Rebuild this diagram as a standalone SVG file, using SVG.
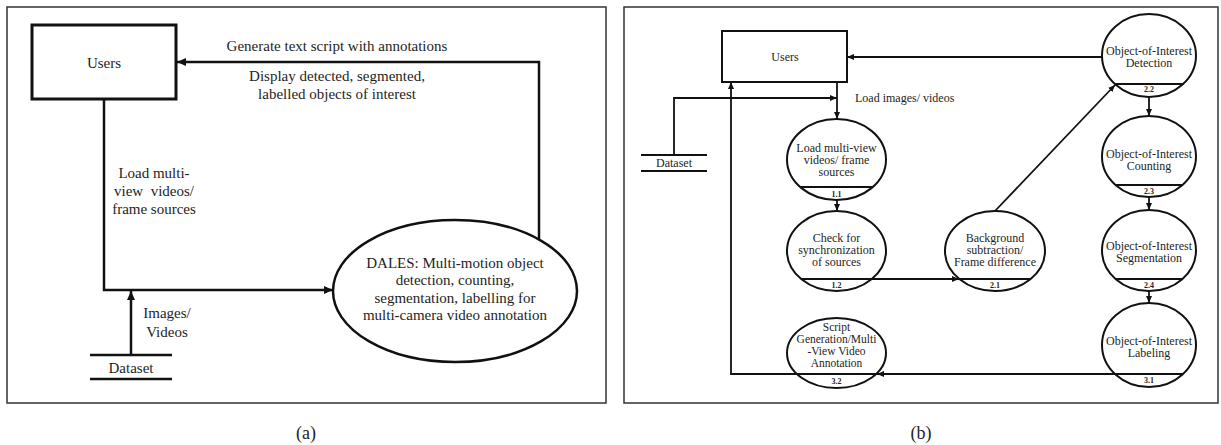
<svg xmlns="http://www.w3.org/2000/svg" width="1221" height="445" viewBox="0 0 1221 445">
<style>
text{font-family:"Liberation Serif","Times New Roman",serif;fill:#1e1e24}
.t15{font-size:15px;text-anchor:middle}
.t12{font-size:12px;text-anchor:middle}
.t11{font-size:11.5px;text-anchor:middle}
.lab{font-size:8px;font-weight:bold;text-anchor:middle}
.cap{font-size:18px;text-anchor:middle}
.frame{fill:none;stroke:#333;stroke-width:1.5}
.lbox{fill:#fff;stroke:#111;stroke-width:3}
.lnode{fill:#fff;stroke:#111;stroke-width:2.5}
.lcon{fill:none;stroke:#111;stroke-width:2.5}
.rbox{fill:#fff;stroke:#111;stroke-width:2}
.rnode{fill:#fff;stroke:#111;stroke-width:2}
.div{stroke:#111;stroke-width:1.8}
.rcon{fill:none;stroke:#111;stroke-width:1.8}
.store{stroke:#111;stroke-width:2.5}
.rstore{stroke:#111;stroke-width:2}
</style>
<defs>
<marker id="ahL" markerUnits="userSpaceOnUse" markerWidth="9" markerHeight="8" refX="9" refY="4" orient="auto"><path d="M0,0 L9,4 L0,8 z" fill="#111"/></marker>
<marker id="ahR" markerUnits="userSpaceOnUse" markerWidth="7" markerHeight="6" refX="7" refY="3" orient="auto"><path d="M0,0 L7,3 L0,6 z" fill="#111"/></marker>
</defs>
<rect width="1221" height="445" fill="#fff"/>

<!-- panel frames -->
<rect class="frame" x="7" y="7" width="599" height="396"/>
<rect class="frame" x="624" y="7" width="594" height="396"/>
<text class="cap" x="306" y="439">(a)</text>
<text class="cap" x="921" y="439">(b)</text>

<!-- ===== Left panel connectors ===== -->
<g id="connectors-a">
<polyline class="lcon" points="104,99 104,290 333,290" marker-end="url(#ahL)"/>
<polyline class="lcon" points="539,239 539,62 177,62" marker-end="url(#ahL)"/>
<line class="lcon" x1="131" y1="355" x2="131" y2="291" marker-end="url(#ahL)"/>
<text class="t15" x="337" y="51">Generate text script with annotations</text>
<text class="t15" x="337" y="81">Display detected, segmented,</text>
<text class="t15" x="337" y="99">labelled objects of interest</text>
<text class="t15" x="154" y="178">Load multi-</text>
<text class="t15" x="154" y="196" xml:space="preserve">view  videos/</text>
<text class="t15" x="154" y="214">frame sources</text>
<text class="t15" x="167" y="318">Images/</text>
<text class="t15" x="167" y="337">Videos</text>
</g>

<g id="a-users">
<rect class="lbox" x="32" y="25" width="144" height="74"/>
<text class="t15" x="104" y="68">Users</text>
</g>
<g id="a-dales">
<ellipse class="lnode" cx="455" cy="291" rx="122" ry="71"/>
<text class="t15" x="455" y="268">DALES: Multi-motion object</text>
<text class="t15" x="455" y="285">detection, counting,</text>
<text class="t15" x="455" y="303">segmentation, labelling for</text>
<text class="t15" x="455" y="320">multi-camera video annotation</text>
</g>
<g id="a-dataset">
<line class="store" x1="90" y1="355" x2="172" y2="355"/>
<line class="store" x1="90" y1="379" x2="172" y2="379"/>
<text class="t15" x="131" y="373">Dataset</text>
</g>

<!-- ===== Right panel connectors ===== -->
<g id="connectors-b">
<line class="rcon" x1="1102" y1="57" x2="847" y2="57" marker-end="url(#ahR)"/>
<line class="rcon" x1="837" y1="82" x2="837" y2="119" marker-end="url(#ahR)"/>
<polyline class="rcon" points="674,155 674,98 837,98" marker-end="url(#ahR)"/>
<line class="rcon" x1="837" y1="200" x2="837" y2="211" marker-end="url(#ahR)"/>
<line class="rcon" x1="872" y1="279" x2="959" y2="279" marker-end="url(#ahR)"/>
<line class="rcon" x1="995" y1="211" x2="1115" y2="85" marker-end="url(#ahR)"/>
<line class="rcon" x1="1149" y1="97" x2="1149" y2="116" marker-end="url(#ahR)"/>
<line class="rcon" x1="1149" y1="197" x2="1149" y2="210" marker-end="url(#ahR)"/>
<line class="rcon" x1="1149" y1="291" x2="1149" y2="303" marker-end="url(#ahR)"/>
<line class="rcon" x1="1115" y1="374" x2="877" y2="374" marker-end="url(#ahR)"/>
<polyline class="rcon" points="796,374 731,374 731,82" marker-end="url(#ahR)"/>
<text class="t12" x="855" y="102" style="text-anchor:start">Load images/ videos</text>
</g>

<g id="b-users">
<rect class="rbox" x="722" y="31" width="125" height="51"/>
<text class="t12" x="785" y="61">Users</text>
</g>
<g id="b-dataset">
<line class="rstore" x1="641" y1="155" x2="707" y2="155"/>
<line class="rstore" x1="641" y1="171" x2="707" y2="171"/>
<text class="t12" x="674" y="167">Dataset</text>
</g>

<g id="p1-1">
<ellipse class="rnode" cx="836.5" cy="159.5" rx="49.5" ry="40.5"/>
<line class="div" x1="800.2" y1="187" x2="872.8" y2="187"/>
<text class="t12" x="836.5" y="152">Load multi-view</text>
<text class="t12" x="836.5" y="164">videos/ frame</text>
<text class="t12" x="836.5" y="176">sources</text>
<text class="lab" x="836.5" y="197">1.1</text>
</g>
<g id="p1-2">
<ellipse class="rnode" cx="836.5" cy="251" rx="49.5" ry="40"/>
<line class="div" x1="801.2" y1="279" x2="871.8" y2="279"/>
<text class="t12" x="836.5" y="242">Check for</text>
<text class="t12" x="836.5" y="254">synchronization</text>
<text class="t12" x="836.5" y="266">of sources</text>
<text class="lab" x="836.5" y="288">1.2</text>
</g>
<g id="p2-1">
<ellipse class="rnode" cx="995" cy="251" rx="50" ry="40"/>
<line class="div" x1="959.3" y1="279" x2="1030.7" y2="279"/>
<text class="t12" x="995" y="242">Background</text>
<text class="t12" x="995" y="254">subtraction/</text>
<text class="t12" x="995" y="266">Frame difference</text>
<text class="lab" x="995" y="288">2.1</text>
</g>
<g id="p2-2">
<ellipse class="rnode" cx="1149" cy="55.5" rx="47" ry="41.5"/>
<line class="div" x1="1114.8" y1="84" x2="1183.2" y2="84"/>
<text class="t12" x="1149" y="55">Object-of-Interest</text>
<text class="t12" x="1149" y="67">Detection</text>
<text class="lab" x="1149" y="92">2.2</text>
</g>
<g id="p2-3">
<ellipse class="rnode" cx="1149" cy="156.5" rx="47" ry="40.5"/>
<line class="div" x1="1115.6" y1="185" x2="1182.4" y2="185"/>
<text class="t12" x="1149" y="158">Object-of-Interest</text>
<text class="t12" x="1149" y="170">Counting</text>
<text class="lab" x="1149" y="194">2.3</text>
</g>
<g id="p2-4">
<ellipse class="rnode" cx="1149" cy="250.5" rx="47" ry="40.5"/>
<line class="div" x1="1115.6" y1="279" x2="1182.4" y2="279"/>
<text class="t12" x="1149" y="250">Object-of-Interest</text>
<text class="t12" x="1149" y="262">Segmentation</text>
<text class="lab" x="1149" y="288">2.4</text>
</g>
<g id="p3-1">
<ellipse class="rnode" cx="1149" cy="345" rx="47" ry="42"/>
<line class="div" x1="1115" y1="374" x2="1183" y2="374"/>
<text class="t12" x="1149" y="345">Object-of-Interest</text>
<text class="t12" x="1149" y="357">Labeling</text>
<text class="lab" x="1149" y="383">3.1</text>
</g>
<g id="p3-2">
<ellipse class="rnode" cx="836.5" cy="353" rx="49.5" ry="35"/>
<line class="div" x1="796.5" y1="374" x2="876.5" y2="374"/>
<text class="t11" x="836.5" y="331">Script</text>
<text class="t11" x="836.5" y="343">Generation/Multi</text>
<text class="t11" x="836.5" y="355">-View Video</text>
<text class="t11" x="836.5" y="367">Annotation</text>
<text class="lab" x="836.5" y="384">3.2</text>
</g>
</svg>
